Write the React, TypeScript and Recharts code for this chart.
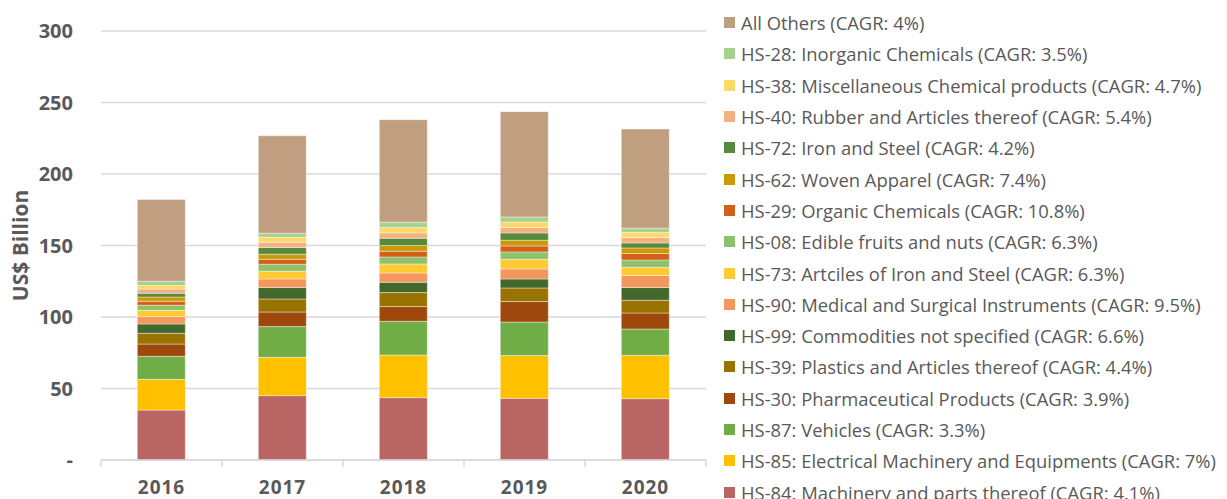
import { BarChart, Bar, XAxis, YAxis, CartesianGrid } from "recharts";

const years = ["2016", "2017", "2018", "2019", "2020"];

// US$ billion
const hs84 = [34.9, 45.0, 43.6, 43.1, 42.9];
const hs85 = [21.5, 26.8, 29.8, 29.9, 30.3];
const hs87 = [16.1, 21.5, 23.6, 23.5, 18.4];
const hs30 = [8.6, 10.2, 10.3, 14.3, 11.2];
const hs39 = [7.5, 9.1, 9.8, 9.5, 8.9];
const hs99 = [6.5, 8.0, 7.2, 6.3, 8.9];
const hs90 = [5.2, 6.0, 6.5, 7.0, 8.4];
const hs73 = [4.4, 5.4, 6.3, 6.8, 5.8];
const hs08 = [3.5, 4.9, 4.9, 5.1, 5.1];
const hs29 = [2.8, 3.5, 4.0, 4.2, 4.5];
const hs62 = [3.0, 3.5, 4.0, 4.0, 3.9];
const hs72 = [2.6, 4.7, 5.1, 5.1, 3.5];
const hs40 = [3.0, 3.7, 3.7, 3.8, 3.8];
const hs38 = [2.4, 3.5, 3.8, 3.9, 3.5];
const hs28 = [3.0, 2.8, 3.7, 3.5, 3.0];
const others = [57.2, 68.1, 71.7, 73.6, 69.3];

const yTicks = [0, 50, 100, 150, 200, 250, 300];

// bottom-to-top stacking order
const series = [
  { key: "hs84", values: hs84, color: "#B96563", label: "HS-84: Machinery and parts thereof (CAGR: 4.1%)" },
  { key: "hs85", values: hs85, color: "#FFC000", label: "HS-85: Electrical Machinery and Equipments (CAGR: 7%)" },
  { key: "hs87", values: hs87, color: "#70AD47", label: "HS-87: Vehicles (CAGR: 3.3%)" },
  { key: "hs30", values: hs30, color: "#9E480E", label: "HS-30: Pharmaceutical Products (CAGR: 3.9%)" },
  { key: "hs39", values: hs39, color: "#997300", label: "HS-39: Plastics and Articles thereof (CAGR: 4.4%)" },
  { key: "hs99", values: hs99, color: "#43682B", label: "HS-99: Commodities not specified (CAGR: 6.6%)" },
  { key: "hs90", values: hs90, color: "#F4975D", label: "HS-90: Medical and Surgical Instruments (CAGR: 9.5%)" },
  { key: "hs73", values: hs73, color: "#FFCA33", label: "HS-73: Artciles of Iron and Steel (CAGR: 6.3%)" },
  { key: "hs08", values: hs08, color: "#8FC06A", label: "HS-08: Edible fruits and nuts (CAGR: 6.3%)" },
  { key: "hs29", values: hs29, color: "#D2601A", label: "HS-29: Organic Chemicals (CAGR: 10.8%)" },
  { key: "hs62", values: hs62, color: "#CC9A06", label: "HS-62: Woven Apparel (CAGR: 7.4%)" },
  { key: "hs72", values: hs72, color: "#578A3A", label: "HS-72: Iron and Steel (CAGR: 4.2%)" },
  { key: "hs40", values: hs40, color: "#F4B183", label: "HS-40: Rubber and Articles thereof (CAGR: 5.4%)" },
  { key: "hs38", values: hs38, color: "#FFD966", label: "HS-38: Miscellaneous Chemical products (CAGR: 4.7%)" },
  { key: "hs28", values: hs28, color: "#A9D18E", label: "HS-28: Inorganic Chemicals (CAGR: 3.5%)" },
  { key: "others", values: others, color: "#C09F80", label: "All Others (CAGR: 4%)" },
];

const data = years.map((year, i) => {
  const row: Record<string, number | string> = { year };
  series.forEach((s) => (row[s.key] = s.values[i]));
  return row;
});

const W = 1227;
const H = 499;
const PLOT_LEFT = 101;
const PLOT_RIGHT = 706;
const PLOT_TOP = 31;
const PLOT_BOTTOM = 460;
const BAND = (PLOT_RIGHT - PLOT_LEFT) / years.length;
const TEXT = "#595959";
const GRID = "#D9D9D9";
const FONT = "'Open Sans', sans-serif";

function YearTick(props: any) {
  const { x, y, payload, index } = props;
  return (
    <g>
      <line x1={x - BAND / 2} x2={x - BAND / 2} y1={PLOT_BOTTOM} y2={PLOT_BOTTOM + 7} stroke={GRID} strokeWidth={1.5} />
      {index === years.length - 1 && (
        <line x1={x + BAND / 2} x2={x + BAND / 2} y1={PLOT_BOTTOM} y2={PLOT_BOTTOM + 7} stroke={GRID} strokeWidth={1.5} />
      )}
      <text
        x={x}
        y={y}
        dy="0.71em"
        textAnchor="middle"
        fill={TEXT}
        fontSize={19}
        fontWeight={700}
        letterSpacing={1}
        fontFamily={FONT}
      >
        {payload.value}
      </text>
    </g>
  );
}

export default function App() {
  const legendRows = [...series].reverse();
  return (
    <div style={{ position: "absolute", left: 0, top: 0, width: W, height: H, background: "#fff", fontFamily: FONT }}>
      <BarChart
        width={W}
        height={H}
        data={data}
        margin={{ top: PLOT_TOP, right: W - PLOT_RIGHT, bottom: 0, left: 0 }}
        barCategoryGap="30%"
      >
        <CartesianGrid vertical={false} stroke={GRID} strokeWidth={1.5} />
        <XAxis
          dataKey="year"
          height={H - PLOT_BOTTOM}
          axisLine={{ stroke: GRID, strokeWidth: 1.5 }}
          tickLine={false}
          tickMargin={15}
          tick={<YearTick />}
          interval={0}
        />
        <YAxis
          width={PLOT_LEFT}
          domain={[0, 300]}
          ticks={yTicks}
          axisLine={false}
          tickLine={false}
          tickMargin={22}
          tickFormatter={(v: number) => (v === 0 ? "-" : String(v))}
          tick={{ fill: TEXT, fontSize: 20, fontWeight: 700, fontFamily: FONT }}
          label={{
            value: "US$ Billion",
            angle: -90,
            position: "center",
            dx: -29.5,
            fill: TEXT,
            fontSize: 21,
            fontWeight: 700,
            fontFamily: FONT,
          }}
        />
        {series.map((s) => (
          <Bar
            key={s.key}
            dataKey={s.key}
            stackId="a"
            fill={s.color}
            stroke="#ffffff"
            strokeWidth={0.4}
            isAnimationActive={false}
          />
        ))}
      </BarChart>
      <div style={{ position: "absolute", left: 724, top: 7 }}>
        {legendRows.map((s) => (
          <div key={s.key} style={{ display: "flex", alignItems: "center", height: 31.3, whiteSpace: "nowrap" }}>
            <span style={{ width: 11, height: 11, background: s.color, marginRight: 6, flex: "none" }} />
            <span style={{ fontSize: 18.4, color: TEXT }}>{s.label}</span>
          </div>
        ))}
      </div>
    </div>
  );
}
